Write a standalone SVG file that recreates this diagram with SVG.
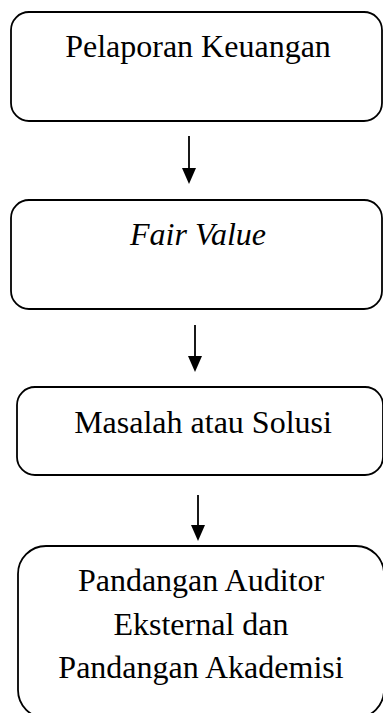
<svg xmlns="http://www.w3.org/2000/svg" width="383" height="713" viewBox="0 0 383 713">
<defs>
<style>
.box{fill:#fff;stroke:#000;stroke-width:1.8}
.t{font-size:32px;fill:#000;text-anchor:middle}
.ln{stroke:#000;stroke-width:1.8;fill:none}
</style>
</defs>
<rect width="383" height="713" fill="#fff"/>
<g id="n1"><rect class="box" x="11" y="12" width="371" height="109" rx="18"/><text class="t" font-family="'Liberation Serif', 'DejaVu Serif', serif" x="198" y="57">Pelaporan Keuangan</text></g>
<g id="n2"><rect class="box" x="11" y="200" width="371" height="109" rx="18"/><text class="t" font-family="'Liberation Serif', 'DejaVu Serif', serif" x="198" y="245" font-style="italic">Fair Value</text></g>
<g id="n3"><rect class="box" x="17" y="387" width="366" height="88" rx="18"/><text class="t" font-family="'Liberation Serif', 'DejaVu Serif', serif" x="203" y="433">Masalah atau Solusi</text></g>
<g id="n4"><rect class="box" x="18" y="546" width="366" height="172" rx="28"/><text class="t" font-family="'Liberation Serif', 'DejaVu Serif', serif" x="201" y="591">Pandangan Auditor</text><text class="t" font-family="'Liberation Serif', 'DejaVu Serif', serif" x="201" y="635">Eksternal dan</text><text class="t" font-family="'Liberation Serif', 'DejaVu Serif', serif" x="201" y="678">Pandangan Akademisi</text></g>
<g id="edges">
<line class="ln" x1="189" y1="136" x2="189" y2="170"/><path d="M182,168 L196,168 L189,184 Z"/>
<line class="ln" x1="195" y1="325" x2="195" y2="358"/><path d="M188,356 L202,356 L195,372 Z"/>
<line class="ln" x1="198" y1="495" x2="198" y2="527"/><path d="M191,525 L205,525 L198,541 Z"/>
</g>
</svg>
